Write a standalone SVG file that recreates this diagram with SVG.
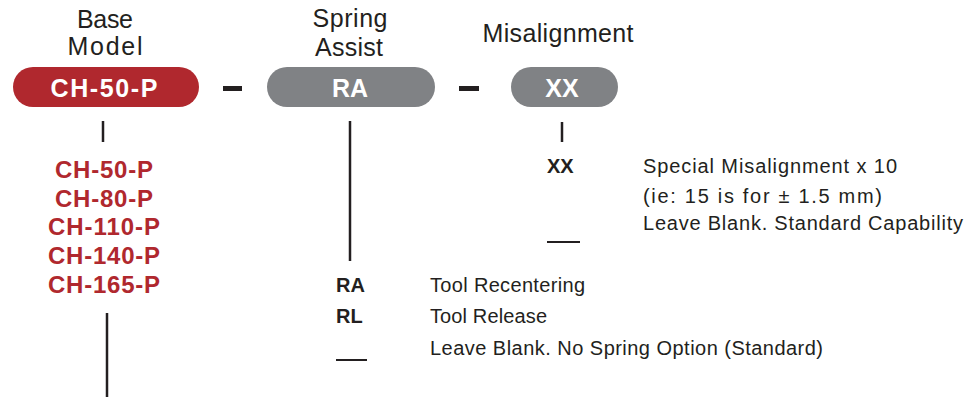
<svg xmlns="http://www.w3.org/2000/svg" width="979" height="397" viewBox="0 0 979 397">
<style>
.hdr{font-family:"Liberation Sans",Arial,sans-serif;font-size:25px;fill:#231f20;text-anchor:middle}
.pill{font-family:"Liberation Sans",Arial,sans-serif;font-size:25px;font-weight:bold;fill:#ffffff;text-anchor:middle}
.red{font-family:"Liberation Sans",Arial,sans-serif;font-size:24px;font-weight:bold;fill:#b0282e;text-anchor:middle}
.code{font-family:"Liberation Sans",Arial,sans-serif;font-size:20px;font-weight:bold;fill:#231f20}
.desc{font-family:"Liberation Sans",Arial,sans-serif;font-size:20px;fill:#231f20}
.ln{stroke:#231f20;stroke-width:2.5;fill:none}
</style>
<rect width="979" height="397" fill="#ffffff"/>
<g id="base-model">
<text class="hdr" x="105" y="28" textLength="56">Base</text>
<text class="hdr" x="105" y="55" textLength="75">Model</text>
<rect x="13" y="67" width="186" height="40" rx="20" fill="#b0282e"/>
<text class="pill" x="104" y="97" textLength="107">CH-50-P</text>
</g>
<g id="spring-assist">
<text class="hdr" x="350" y="27" textLength="75">Spring</text>
<text class="hdr" x="349" y="56" textLength="68">Assist</text>
<rect x="267" y="67" width="168" height="40" rx="20" fill="#808285"/>
<text class="pill" x="350" y="97">RA</text>
</g>
<g id="misalignment">
<text class="hdr" x="558" y="42" textLength="151">Misalignment</text>
<rect x="511" y="67" width="107" height="40" rx="20" fill="#808285"/>
<text class="pill" x="562" y="97">XX</text>
</g>
<g id="separators">
<rect x="223" y="86" width="19" height="5" fill="#231f20"/>
<rect x="459" y="86" width="20" height="5" fill="#231f20"/>
</g>
<g id="connectors">
<line class="ln" x1="103" y1="121" x2="103" y2="142"/>
<line class="ln" x1="107" y1="313" x2="107" y2="397"/>
<line class="ln" x1="350" y1="121" x2="350" y2="261"/>
<line class="ln" x1="562" y1="122" x2="562" y2="142"/>
</g>
<g id="base-options">
<text class="red" x="104" y="178" textLength="98">CH-50-P</text>
<text class="red" x="104" y="207" textLength="98">CH-80-P</text>
<text class="red" x="104" y="235" textLength="112">CH-110-P</text>
<text class="red" x="104" y="264" textLength="112">CH-140-P</text>
<text class="red" x="104" y="293" textLength="112">CH-165-P</text>
</g>
<g id="spring-options">
<text class="code" x="336" y="292">RA</text>
<text class="desc" x="430" y="292" textLength="155">Tool Recentering</text>
<text class="code" x="336" y="323">RL</text>
<text class="desc" x="430" y="323" textLength="117">Tool Release</text>
<line x1="336" y1="360" x2="367" y2="360" stroke="#231f20" stroke-width="2"/>
<text class="desc" x="430" y="355" textLength="393">Leave Blank. No Spring Option (Standard)</text>
</g>
<g id="misalignment-options">
<text class="code" x="547" y="173">XX</text>
<text class="desc" x="643" y="173" textLength="254">Special Misalignment x 10</text>
<text class="desc" x="643" y="203" textLength="239">(ie: 15 is for ± 1.5 mm)</text>
<line x1="547" y1="242" x2="580" y2="242" stroke="#231f20" stroke-width="2"/>
<text class="desc" x="643" y="230" textLength="320">Leave Blank. Standard Capability</text>
</g>
</svg>
